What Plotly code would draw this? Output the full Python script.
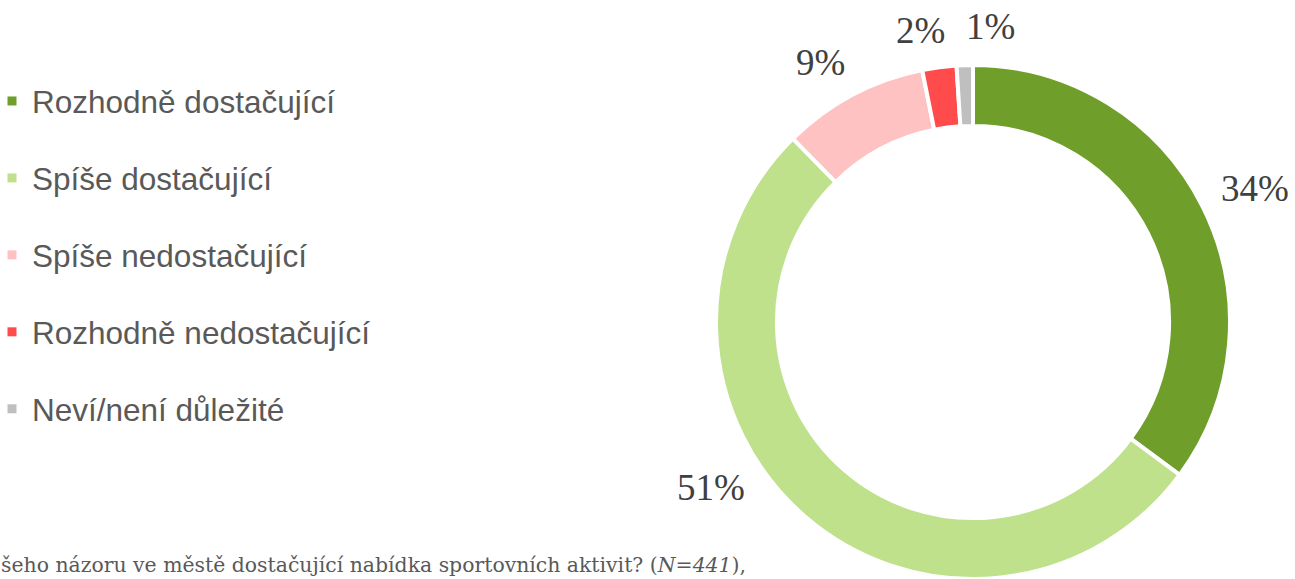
import math
import plotly.graph_objects as go

# ---- data ----
categories = ["Rozhodně dostačující", "Spíše dostačující", "Spíše nedostačující",
              "Rozhodně nedostačující", "Neví/není důležité"]
values = [34.4, 51.4, 9.0, 2.1, 1.0]          # % of respondents (N=441)
colors = ["#709E2B", "#BFE18C", "#FFC2C2", "#FF4B4B", "#BFBFBF"]
caption = "šeho názoru ve městě dostačující nabídka sportovních aktivit? (<i>N=441</i>),"

# ---- layout constants ----
W, H = 1295, 579
CX, CY, R = 973, 322, 257          # donut centre / outer radius in px
HOLE = 0.763
LABEL_RX, LABEL_RY = 316, 296      # label ellipse semi-axes, px
label_shift_deg = [0, 15, -1, -2, 5]

fig = go.Figure()

fig.add_trace(go.Pie(
    labels=categories, values=values, sort=False, direction="clockwise",
    rotation=0, hole=HOLE,
    marker=dict(colors=colors, line=dict(color="white", width=4)),
    textinfo="none", hoverinfo="label+percent", showlegend=False,
    domain=dict(x=[(CX - R) / W, (CX + R) / W], y=[1 - (CY + R) / H, 1 - (CY - R) / H]),
))

# legend entries
for cat, col in zip(categories, colors):
    fig.add_trace(go.Scatter(
        x=[None], y=[None], mode="markers", name=cat, legendgroup=cat,
        marker=dict(symbol="square", size=9, color=col), hoverinfo="skip",
    ))

# percentage labels placed around the slice mid-angles
total = sum(values)
cum = 0.0
annotations = []
for v, shift in zip(values, label_shift_deg):
    mid = (cum + v / 2) / total * 360 + shift
    cum += v
    a = math.radians(mid)
    px = CX + LABEL_RX * math.sin(a)
    py = CY - LABEL_RY * math.cos(a)
    annotations.append(dict(
        x=px / W, y=1 - py / H, xref="paper", yref="paper",
        text=f"{round(v)}%", showarrow=False, xanchor="center", yanchor="middle",
        font=dict(family="Liberation Serif", size=37, color="#404040"),
    ))

annotations.append(dict(
    x=-0.001, y=1 - 565 / H, xref="paper", yref="paper", text=caption,
    showarrow=False, xanchor="left", yanchor="middle",
    font=dict(family="DejaVu Serif", size=20.4, color="#595959"),
))

fig.update_layout(
    width=W, height=H,
    margin=dict(l=0, r=0, t=0, b=0, autoexpand=False),
    paper_bgcolor="white", plot_bgcolor="white",
    xaxis=dict(visible=False), yaxis=dict(visible=False),
    legend=dict(
        x=-8 / W, y=1 - 74 / H, xanchor="left", yanchor="top",
        font=dict(family="Liberation Sans", size=31.5, color="#595959"),
        tracegroupgap=33, itemsizing="trace", bgcolor="rgba(0,0,0,0)",
    ),
    annotations=annotations,
)

fig.write_html("out.html", config={"displayModeBar": False},
               post_script="document.body.style.margin='0';document.body.style.overflow='hidden';")
